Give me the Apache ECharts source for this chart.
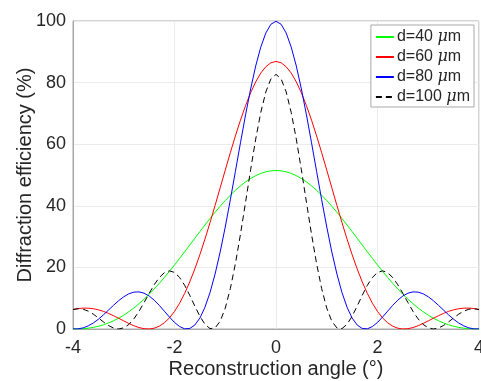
<!DOCTYPE html>
<html>
<head>
<meta charset="utf-8">
<script src="https://cdn.jsdelivr.net/npm/echarts@6/dist/echarts.min.js"></script>
<style>
html,body{margin:0;padding:0;background:#fff;}
#c{width:481px;height:381px;}
</style>
</head>
<body>
<div id="c"></div>
<script>
var angles = [-4.0,-3.9,-3.8,-3.7,-3.6,-3.5,-3.4,-3.3,-3.2,-3.1,-3.0,-2.9,-2.8,-2.7,-2.6,-2.5,-2.4,-2.3,-2.2,-2.1,-2.0,-1.9,-1.8,-1.7,-1.6,-1.5,-1.4,-1.3,-1.2,-1.1,-1.0,-0.9,-0.8,-0.7,-0.6,-0.5,-0.4,-0.3,-0.2,-0.1,0.0,0.1,0.2,0.3,0.4,0.5,0.6,0.7,0.8,0.9,1.0,1.1,1.2,1.3,1.4,1.5,1.6,1.7,1.8,1.9,2.0,2.1,2.2,2.3,2.4,2.5,2.6,2.7,2.8,2.9,3.0,3.1,3.2,3.3,3.4,3.5,3.6,3.7,3.8,3.9,4.0];

var d40 = [0.01,0.01,0.09,0.26,0.52,0.89,1.37,1.96,2.68,3.52,4.49,5.60,6.83,8.19,9.67,11.28,12.99,14.81,16.73,18.72,20.79,22.91,25.07,27.25,29.44,31.62,33.77,35.87,37.91,39.86,41.71,43.44,45.03,46.48,47.76,48.87,49.79,50.52,51.04,51.35,
51.46,
51.35,51.04,50.52,49.79,48.87,47.76,46.48,45.03,43.44,41.71,39.86,37.91,35.87,33.77,31.62,29.44,27.25,25.07,22.91,20.79,18.72,16.73,14.81,12.99,11.28,9.67,8.19,6.83,5.60,4.49,3.52,2.68,1.96,1.37,0.89,0.52,0.26,0.09,0.01,0.01];

var d60 = [6.34,6.63,6.78,6.77,6.58,6.23,5.72,5.07,4.31,3.48,2.63,1.80,1.06,0.47,0.10,0.01,0.26,0.91,2.01,3.60,5.71,8.36,11.55,15.27,19.48,24.13,29.18,34.55,40.14,45.85,51.59,57.24,62.69,67.82,72.52,76.69,80.24,83.09,85.17,86.44,
86.87,
86.44,85.17,83.09,80.24,76.69,72.52,67.82,62.69,57.24,51.59,45.85,40.14,34.55,29.18,24.13,19.48,15.27,11.55,8.36,5.71,3.60,2.01,0.91,0.26,0.01,0.10,0.47,1.06,1.80,2.63,3.48,4.31,5.07,5.72,6.23,6.58,6.77,6.78,6.63,6.34];

var d80 = [0.03,0.05,0.37,1.01,1.95,3.17,4.60,6.15,7.72,9.20,10.47,11.42,11.97,12.05,11.63,10.72,9.37,7.68,5.79,3.88,2.14,0.80,0.07,0.17,1.28,3.55,7.06,11.84,17.87,25.02,33.12,41.94,51.17,60.48,69.53,77.94,85.38,91.52,96.12,98.95,
99.91,
98.95,96.12,91.52,85.38,77.94,69.53,60.48,51.17,41.94,33.12,25.02,17.87,11.84,7.06,3.55,1.28,0.17,0.07,0.80,2.14,3.88,5.79,7.68,9.37,10.72,11.63,12.05,11.97,11.42,10.47,9.20,7.72,6.15,4.60,3.17,1.95,1.01,0.37,0.05,0.03];

var d100 = [6.31,6.59,6.42,5.81,4.83,3.60,2.30,1.13,0.30,0.00,0.37,1.47,3.29,5.72,8.56,11.55,14.37,16.71,18.29,18.88,18.36,16.75,14.19,10.96,7.45,4.14,1.53,0.13,0.35,2.52,6.78,13.09,21.22,30.77,41.15,51.69,61.65,70.30,76.99,81.23,
82.68,
81.23,76.99,70.30,61.65,51.69,41.15,30.77,21.22,13.09,6.78,2.52,0.35,0.13,1.53,4.14,7.45,10.96,14.19,16.75,18.36,18.88,18.29,16.71,14.37,11.55,8.56,5.72,3.29,1.47,0.37,0.00,0.30,1.13,2.30,3.60,4.83,5.81,6.42,6.59,6.31];

var seriesNames = ['d=40 μm', 'd=60 μm', 'd=80 μm', 'd=100 μm'];
var seriesValues = [d40, d60, d80, d100];
var seriesColors = ['#00ff00', '#ff0000', '#0000ff', '#000000'];
var xTicks = [-4, -2, 0, 2, 4];
var yTicks = [0, 20, 40, 60, 80, 100];

var FONT = '"Liberation Sans", Arial, Helvetica, sans-serif';
var TEXT = '#262626';
var AXIS = '#a8a8a8';

function pairs(vals) {
  return angles.map(function (a, i) { return [a, vals[i]]; });
}

var series = seriesNames.map(function (n, i) {
  return {
    name: n,
    type: 'line',
    data: pairs(seriesValues[i]),
    symbol: 'none',
    showSymbol: false,
    smooth: false,
    animation: false,
    color: seriesColors[i],
    lineStyle: { width: 1, color: seriesColors[i], type: i === 3 ? [6, 4] : 'solid' }
  };
});

var chart = echarts.init(document.getElementById('c'), null, { renderer: 'canvas' });
chart.setOption({
  backgroundColor: '#ffffff',
  animation: false,
  grid: { left: 73, right: 2, top: 21, bottom: 52, outerBoundsMode: 'none', containLabel: false,
          show: true, borderColor: AXIS, borderWidth: 1, backgroundColor: 'transparent' },
  xAxis: {
    type: 'value', min: xTicks[0], max: xTicks[xTicks.length - 1], interval: 2,
    name: 'Reconstruction angle (°)', nameLocation: 'middle', nameGap: 30, nameMoveOverlap: false,
    nameTextStyle: { fontSize: 20, color: TEXT, fontFamily: FONT },
    axisLine: { show: true, onZero: false, lineStyle: { color: AXIS, width: 1 } },
    axisTick: { show: false },
    axisLabel: { fontSize: 18, color: TEXT, fontFamily: FONT, margin: 10, hideOverlap: false },
    splitLine: { show: true, lineStyle: { color: '#ebebeb', width: 1 } }
  },
  yAxis: {
    type: 'value', min: yTicks[0], max: yTicks[yTicks.length - 1], interval: 20,
    name: 'Diffraction efficiency (%)', nameLocation: 'middle', nameGap: 38, nameMoveOverlap: false,
    nameTextStyle: { fontSize: 20, color: TEXT, fontFamily: FONT },
    axisLine: { show: true, onZero: false, lineStyle: { color: AXIS, width: 1 } },
    axisTick: { show: false },
    axisLabel: { fontSize: 18, color: TEXT, fontFamily: FONT, margin: 7 },
    splitLine: { show: true, lineStyle: { color: '#ebebeb', width: 1 } }
  },
  legend: {
    orient: 'vertical', right: 7, top: 25,
    backgroundColor: '#ffffff', borderColor: '#a8a8a8', borderWidth: 1,
    padding: [4, 4, 2, 4], itemGap: 4, itemWidth: 18, itemHeight: 14,
    itemStyle: { color: 'rgba(0,0,0,0)', borderColor: 'rgba(0,0,0,0)', borderWidth: 0, opacity: 0 },
    data: seriesNames,
    formatter: function (name) { return name.replace('μ', '{i|μ}'); },
    textStyle: {
      fontSize: 16, color: TEXT, fontFamily: FONT, padding: [0, 0, 0, -2],
      rich: { i: { fontSize: 16, fontStyle: 'italic', color: TEXT, fontFamily: '"DejaVu Serif", serif' } }
    }
  },
  series: series
});
</script>
</body>
</html>
